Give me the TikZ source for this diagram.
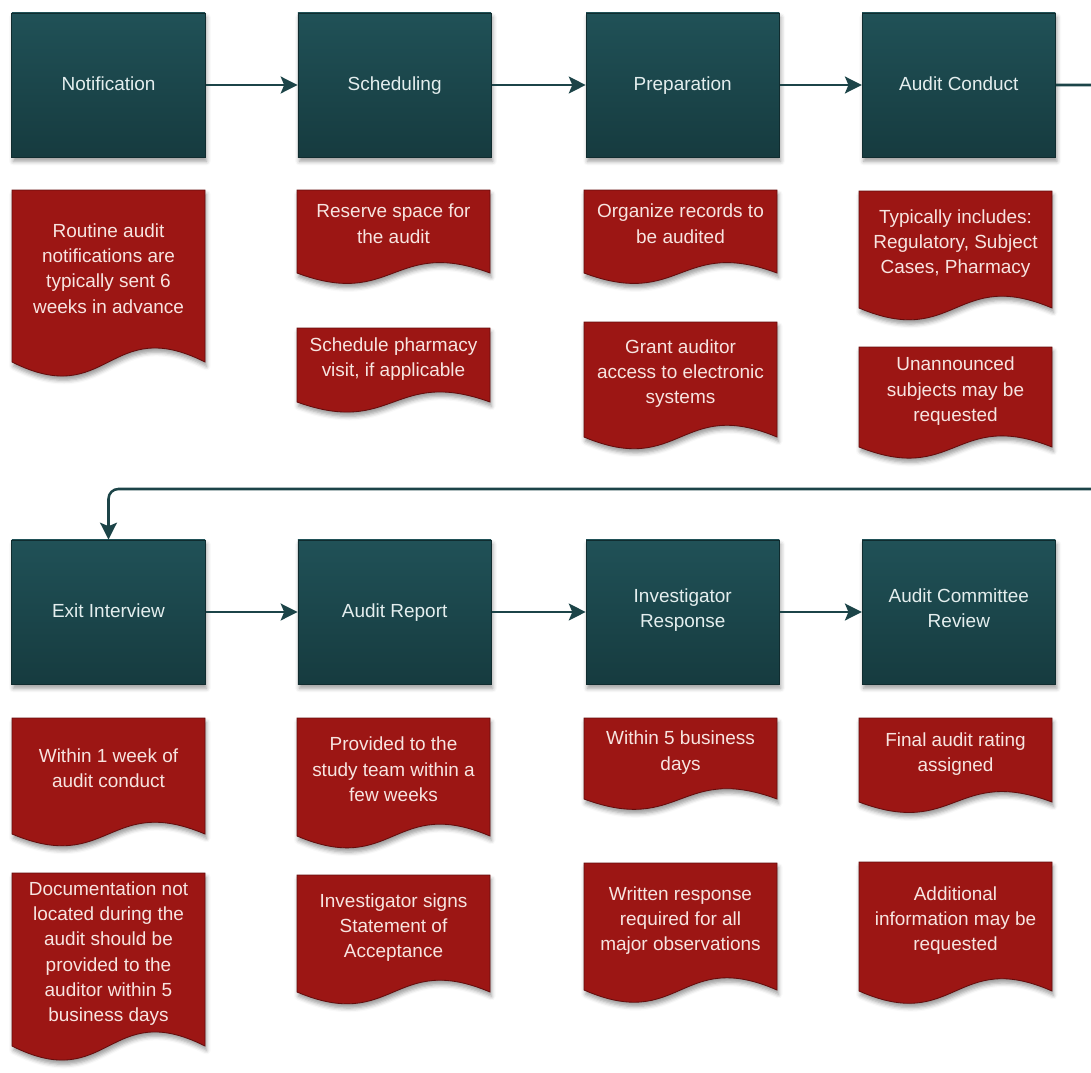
\documentclass[tikz,border=0pt]{standalone}
\usepackage{fontspec}
\setmainfont{Liberation Sans}
\usetikzlibrary{arrows.meta,positioning,shadows.blur}

\definecolor{tealtop}{RGB}{32,81,87}
\definecolor{tealbot}{RGB}{22,59,63}
\definecolor{tealline}{RGB}{16,44,47}
\definecolor{flowline}{RGB}{28,68,72}
\definecolor{notered}{RGB}{156,22,20}
\definecolor{noteline}{RGB}{100,12,12}
\definecolor{stagefont}{RGB}{228,238,238}
\definecolor{notefont}{RGB}{247,228,224}

\tikzset{x=0.025cm, y=-0.025cm, % one unit is one pixel of the sheet, y runs downwards
        stage/.style={ % the teal step boxes
            rectangle,
            draw=tealline, line width=0.6pt,
            top color=tealtop, bottom color=tealbot,
            minimum width=4.83cm, minimum height=3.6cm,
            align=center, text=stagefont,
            font=\fontsize{13.5}{18}\selectfont,
            execute at begin node=\strut, execute at end node=\strut,
            blur shadow={shadow xshift=1pt, shadow yshift=-3pt,
                shadow blur radius=3pt, shadow opacity=40}},
        notefill/.style={ % red document shape under each step
            fill=notered, draw=noteline, line width=0.6pt,
            blur shadow={shadow xshift=1pt, shadow yshift=-3pt,
                shadow blur radius=3pt, shadow opacity=40}},
        notetext/.style={
            align=center, text=notefont, inner sep=0pt,
            font=\fontsize{13.5}{18}\selectfont,
            execute at begin node=\strut, execute at end node=\strut},
        flow/.style={ % connectors between steps
            draw=flowline, line width=1.8pt,
            -{Stealth[length=12pt,width=12pt,inset=2.5pt]}},
        every edge/.style={flow}
        }

% #1 name, #2 left edge, #3 top, #4 foot of the sides, #5 text
\newcommand{\docnote}[5]{%
    \pgfmathsetmacro{\wavedepth}{3.5*(7+0.04*(#4-#3))}
    \draw[notefill] (#2,#3) -- (#2+193,#3) -- (#2+193,#4)
        .. controls (#2+96.5,#4-\wavedepth) and (#2+96.5,#4+\wavedepth) .. (#2,#4) -- cycle;
    \node[notetext] (#1) at (#2+96.5,{(#3+#4)/2-4}) {#5};}

\begin{document}
\begin{tikzpicture}
    \useasboundingbox (0,0) rectangle (1091,1072);
    \clip (0,0) rectangle (1091,1072);

    \node[stage] (notif)                          at (108.5,85)  {Notification};
    \node[stage] (sched)    [right=2.3cm of notif]               {Scheduling};
    \node[stage] (prep)     [right=2.35cm of sched]              {Preparation};
    \node[stage] (conduct)  [right=2.05cm of prep]               {Audit Conduct};
    \node[stage] (exit)                           at (108.5,612) {Exit Interview};
    \node[stage] (report)   [right=2.3cm of exit]                {Audit Report};
    \node[stage] (response) [right=2.35cm of report]             {Investigator\\Response};
    \node[stage] (review)   [right=2.05cm of response]           {Audit Committee\\Review};

    \coordinate (rim) at (1125,489);

    \draw
        (notif)    edge (sched)
        (sched)    edge (prep)
        (prep)     edge (conduct)
        (exit)     edge (report)
        (report)   edge (response)
        (response) edge (review);
    \draw[flow, rounded corners=7pt] (conduct) -| (rim) -| (exit);

    % notes, first row
    \docnote{notifA}{12}{190}{362}{Routine audit\\notifications are\\typically sent 6\\weeks in advance}
    \docnote{schedA}{297}{190}{273}{Reserve space for\\the audit}
    \docnote{schedB}{297}{328}{402}{Schedule pharmacy\\visit, if applicable}
    \docnote{prepA}{584}{190}{273}{Organize records to\\be audited}
    \docnote{prepB}{584}{322}{437}{Grant auditor\\access to electronic\\systems}
    \docnote{conductA}{859}{191}{308}{Typically includes:\\Regulatory, Subject\\Cases, Pharmacy}
    \docnote{conductB}{859}{347}{447}{Unannounced\\subjects may be\\requested}

    % notes, second row
    \docnote{exitA}{12}{718}{834}{Within 1 week of\\audit conduct}
    \docnote{exitB}{12}{873}{1046}{Documentation not\\located during the\\audit should be\\provided to the\\auditor within 5\\business days}
    \docnote{reportA}{297}{718}{836}{Provided to the\\study team within a\\few weeks}
    \docnote{reportB}{297}{875}{992}{Investigator signs\\Statement of\\Acceptance}
    \docnote{responseA}{584}{718}{799}{Within 5 business\\days}
    \docnote{responseB}{584}{863}{990}{Written response\\required for all\\major observations}
    \docnote{reviewA}{859}{718}{802}{Final audit rating\\assigned}
    \docnote{reviewB}{859}{862}{991}{Additional\\information may be\\requested}
\end{tikzpicture}
\end{document}
